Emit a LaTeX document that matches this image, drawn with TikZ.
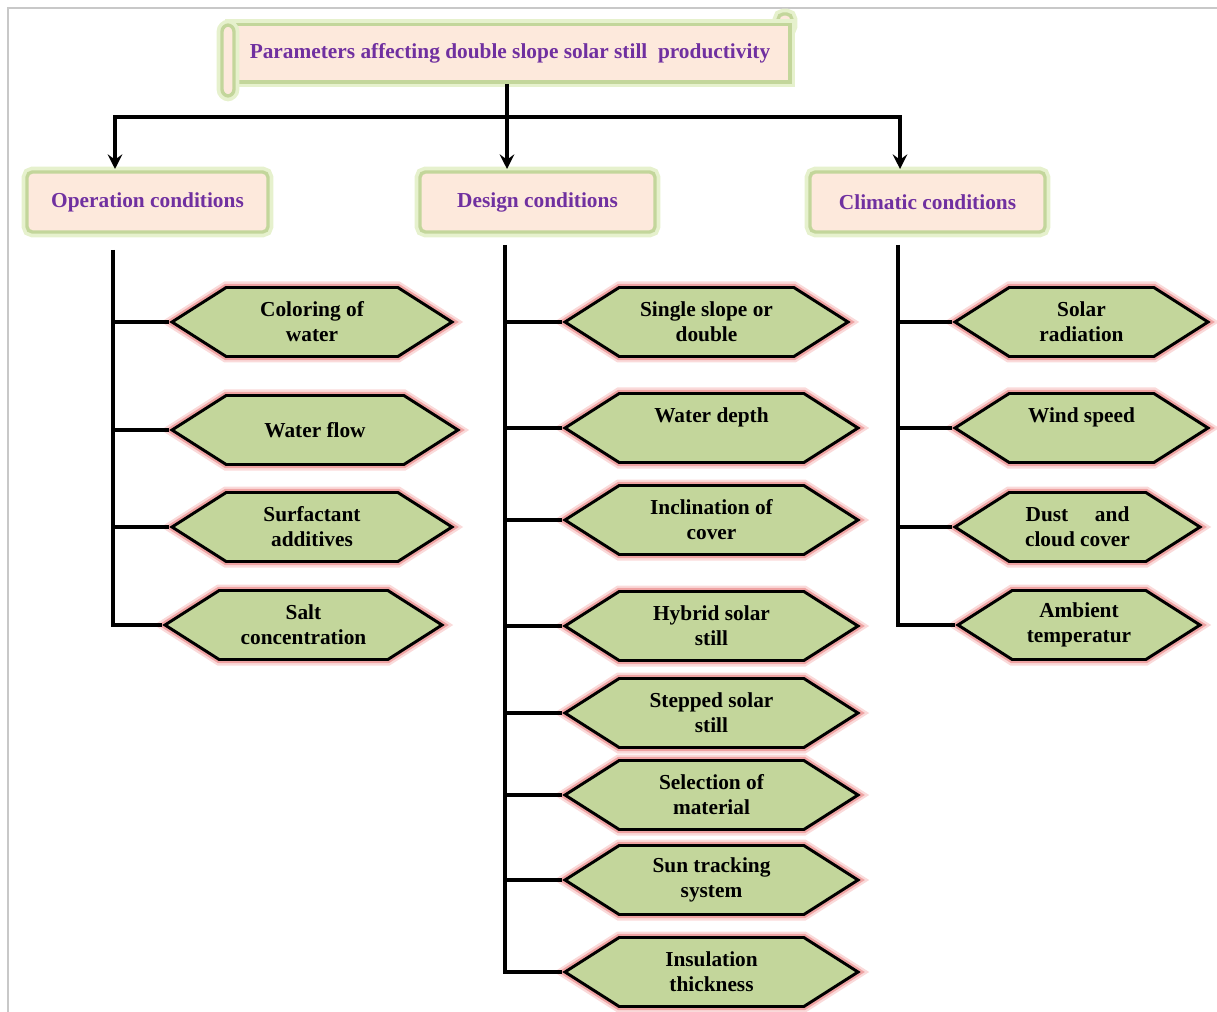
\documentclass[tikz,border=0pt]{standalone}
\usepackage{fontspec}
\setmainfont{Liberation Serif}
\usetikzlibrary{shapes.symbols,arrows.meta}
\definecolor{peach}{HTML}{FDE9DC}
\definecolor{gborder}{HTML}{C3D69B}
\definecolor{gglow}{HTML}{E6F1CD}
\definecolor{purp}{HTML}{7030A0}
\definecolor{hexfill}{HTML}{C3D69B}
\definecolor{rglow}{HTML}{EFA3A3}
\definecolor{rglowb}{HTML}{FADADA}
\definecolor{framegray}{HTML}{C8C8C8}
\begin{document}
\begin{tikzpicture}[x=0.75pt,y=-0.75pt,
  conn/.style={line width=2.3pt, draw=black},
  arr/.style={conn, -{Stealth[length=11pt,width=11pt,inset=4pt]}},
  hexbox/.style={shape=signal, signal to=west and east, signal pointer angle=65,
    fill=hexfill, draw=black, line width=2.2pt,
    preaction={draw=rglowb, line width=9pt},
    preaction={draw=rglow, line width=5.5pt},
    font=\fontsize{16}{18.75}\selectfont\bfseries, align=center,
    minimum height=51.75pt, inner sep=0pt},
  catbox/.style={rectangle, rounded corners=4pt, fill=peach, draw=gborder, line width=2.5pt,
    preaction={draw=gglow, line width=8pt},
    font=\fontsize{16}{19}\selectfont\bfseries, text=purp,
    minimum height=45pt, inner sep=0pt},
  scrollpart/.style={fill=peach, draw=gborder, line width=2.5pt, preaction={draw=gglow, line width=8pt}}
]
\useasboundingbox (0,0) rectangle (1217,1012);
% frame
\draw[framegray, line width=1.2pt] (1217,8) -- (8,8) -- (8,1012);

% title scroll
\draw[scrollpart, rounded corners=4pt] (778,14) rectangle (792,32);
\node[rectangle, fill=peach, draw=gborder, line width=2.5pt, preaction={draw=gglow, line width=8pt},
  minimum width=420pt, minimum height=43pt, inner sep=0pt, text=purp,
  font=\fontsize{16}{19}\selectfont\bfseries] (T) at (510,53.5) {\raisebox{2pt}{Parameters affecting double slope solar still\ \ productivity}};
\draw[scrollpart, rounded corners=5pt] (222,25) rectangle (234,96);

% category boxes
\node[catbox, minimum width=180.75pt] (op) at (147.5,202) {\raisebox{-1pt}{Operation conditions}};
\node[catbox, minimum width=176.25pt] (de) at (537.5,202) {\raisebox{-1pt}{Design conditions}};
\node[catbox, minimum width=176.25pt] (cl) at (927.5,202) {\raisebox{-1pt}{Climatic conditions}};

% top tree
\coordinate (j) at (507,117);
\coordinate (aOp) at (115,169);
\coordinate (aDe) at (507,169);
\coordinate (aCl) at (900,169);
\draw[conn] (T.south -| j) -- (j);
\draw[arr] (j) -| (aOp);
\draw[arr] (j) -- (aDe);
\draw[arr] (j) -| (aCl);

% operation items
\node[hexbox, minimum width=210pt] (o1) at (312,322) {Coloring of\\water};
\node[hexbox, minimum width=214.5pt] (o2) at (315,430) {Water flow};
\node[hexbox, minimum width=210pt] (o3) at (312,527) {Surfactant\\additives};
\node[hexbox, minimum width=207.75pt] (o4) at (303.5,625) {Salt\\concentration};

% design items
\node[hexbox, minimum width=212.25pt] (d1) at (706.5,322) {Single slope or\\double};
\node[hexbox, minimum width=219.75pt] (d2) at (711.5,428) {Water depth\\\mbox{}};
\node[hexbox, minimum width=219.75pt] (d3) at (711.5,520) {Inclination of\\cover};
\node[hexbox, minimum width=219.75pt] (d4) at (711.5,626) {Hybrid solar\\still};
\node[hexbox, minimum width=219.75pt] (d5) at (711.5,713) {Stepped solar\\still};
\node[hexbox, minimum width=219.75pt] (d6) at (711.5,795) {Selection of\\material};
\node[hexbox, minimum width=219.75pt] (d7) at (711.5,880) {Sun tracking\\system};
\node[hexbox, minimum width=219.75pt] (d8) at (711.5,972) {Insulation\\thickness};

% climatic items
\node[hexbox, minimum width=189.75pt] (c1) at (1081.5,322) {Solar\\radiation};
\node[hexbox, minimum width=189.75pt] (c2) at (1081.5,428) {Wind speed\\\mbox{}};
\node[hexbox, minimum width=183.75pt] (c3) at (1077.5,527) {Dust\hspace{1.25em}and\\cloud cover};
\node[hexbox, minimum width=181.5pt] (c4) at (1079,625) {Ambient\\temperatur};

% spines
\coordinate (sOp) at (113,250);
\coordinate (sDe) at (505,245);
\coordinate (sCl) at (898,245);
\draw[conn] (sOp) |- (o4.west);
\foreach \n in {o1,o2,o3} \draw[conn] (sOp |- \n.west) -- (\n.west);
\draw[conn] (sDe) |- (d8.west);
\foreach \n in {d1,d2,d3,d4,d5,d6,d7} \draw[conn] (sDe |- \n.west) -- (\n.west);
\draw[conn] (sCl) |- (c4.west);
\foreach \n in {c1,c2,c3} \draw[conn] (sCl |- \n.west) -- (\n.west);
\end{tikzpicture}
\end{document}
